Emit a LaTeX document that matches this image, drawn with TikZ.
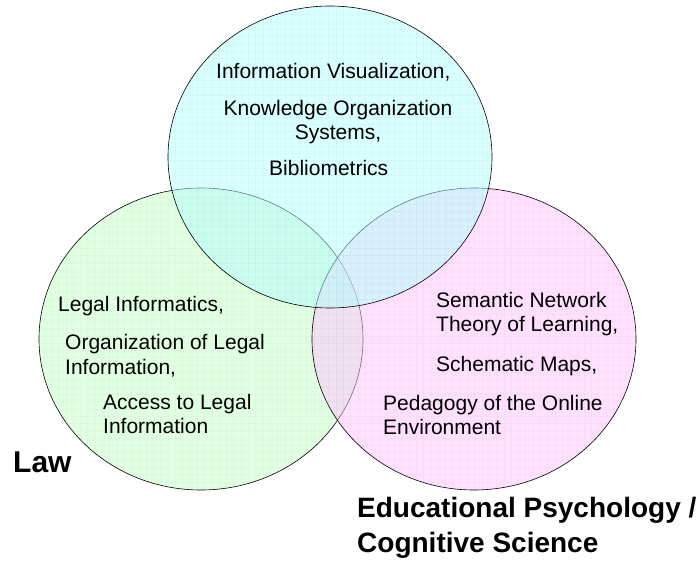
\documentclass[tikz,border=0pt]{standalone}
\usepackage{fontspec}
\setmainfont{Liberation Sans}

\definecolor{lawgreen}{RGB}{196,255,196}
\definecolor{edpink}{RGB}{255,196,255}
\definecolor{infocyan}{RGB}{179,255,255}

\tikzset{
  txt/.style={font=\fontsize{21}{24.5}\selectfont,inner sep=0pt,align=left,anchor=base west},
  field/.style={font=\bfseries\fontsize{28}{35}\selectfont,inner sep=0pt,align=left,anchor=base west}
}

\begin{document}
\begin{tikzpicture}[x=1pt,y=-1pt]
  \useasboundingbox (0,0) rectangle (697,564);
  % the three fields: law, educational psychology, information science
  \foreach \cx/\cy/\col in {201/339/lawgreen,474/339/edpink,330/157/infocyan}{
    \begin{scope}
      \clip (\cx,\cy) ellipse [x radius=162pt,y radius=151pt];
      \fill[\col,fill opacity=0.5] (\cx-170,\cy-160) rectangle (\cx+170,\cy+160);
      \draw[\col!70!black,opacity=0.07,line width=0.4pt,step=7.3pt]
        (\cx-170,\cy-160) grid (\cx+170,\cy+160);
    \end{scope}
    \draw[line width=0.6pt] (\cx,\cy) ellipse [x radius=162pt,y radius=151pt];
  }
  % top (multi-line nodes sit on their last baseline)
  \node[txt] (infovis) at (216,79) {Information Visualization,};
  \node[txt,align=center,anchor=base] (kos) at (338,140) {Knowledge Organization\\Systems,};
  \node[txt] (biblio) at (269,176) {Bibliometrics};
  % left
  \node[txt] (legalinf) at (58,312) {Legal Informatics,};
  \node[txt] (orglegal) at (65,374) {Organization of Legal\\Information,};
  \node[txt] (access) at (103,434) {Access to Legal\\Information};
  % right
  \node[txt] (semnet) at (436,332) {Semantic Network\\Theory of Learning,};
  \node[txt] (schema) at (436,372) {Schematic Maps,};
  \node[txt] (pedag) at (383,435) {Pedagogy of the Online\\Environment};
  % field names
  \node[field,font=\bfseries\fontsize{30}{35}\selectfont] (law) at (13,472) {Law};
  \node[field] (edpsy) at (357,552) {Educational Psychology /\\Cognitive Science};
\end{tikzpicture}
\end{document}
